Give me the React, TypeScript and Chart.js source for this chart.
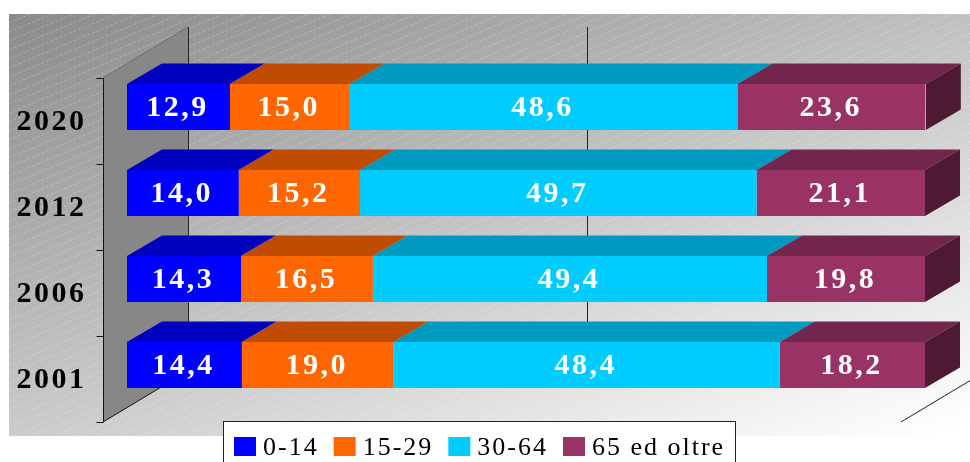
import { useEffect, useRef } from 'react';
import { Chart, registerables } from 'chart.js';

Chart.register(...registerables);

const categories = ['2020', '2012', '2006', '2001'];
const seriesLabels = ['0-14', '15-29', '30-64', '65 ed oltre'];
const age0to14 = [12.9, 14.0, 14.3, 14.4];
const age15to29 = [15.0, 15.2, 16.5, 19.0];
const age30to64 = [48.6, 49.7, 49.4, 48.4];
const age65plus = [23.6, 21.1, 19.8, 18.2];
const gridTicks = [0, 50, 100];

const frontColors = ['#0000FF', '#FF6600', '#00CCFF', '#993366'];
const topColors = ['#0000BF', '#BF4C00', '#0099BF', '#73264D'];
const sideColors = ['#000080', '#803300', '#006680', '#4D1933'];

const SERIF = '"Liberation Serif", "Times New Roman", serif';

// 3D geometry offsets relative to bar front plane
const BAR_DX = 35;
const BAR_DY = -20.5;
const FRONT_DX = -24;
const FRONT_DY = 14;
const BACK_DX = 61;
const BACK_DY = -37;

const fmt = (v: number) => v.toFixed(1).replace('.', ',');

const threeDPlugin = {
  id: 'threeD',
  beforeDatasetsDraw(chart: any) {
    const ctx: CanvasRenderingContext2D = chart.ctx;
    const { left, right, top, bottom } = chart.chartArea;
    const xs = chart.scales.x;
    const ys = chart.scales.y;
    ctx.save();
    // panel background
    const px = 9, py = 14, pw = 961, ph = 422;
    const g = ctx.createLinearGradient(px, py, 260, 688);
    g.addColorStop(0, '#8a8a8a');
    g.addColorStop(1, '#ffffff');
    ctx.fillStyle = g;
    ctx.fillRect(px, py, pw, ph);
    // stripes
    ctx.save();
    ctx.beginPath();
    ctx.rect(px, py, pw, ph);
    ctx.clip();
    ctx.strokeStyle = 'rgba(255,255,255,0.25)';
    ctx.lineWidth = 1;
    ctx.setLineDash([3, 2]);
    for (let k = 0; k < 160; k++) {
      const y0 = py + k * 9;
      ctx.beginPath();
      ctx.moveTo(px, y0);
      ctx.lineTo(px + pw, y0 - 0.42 * pw);
      ctx.stroke();
    }
    ctx.restore();
    ctx.setLineDash([]);

    // back-wall gridlines
    ctx.strokeStyle = '#222';
    ctx.lineWidth = 1;
    for (const t of gridTicks) {
      const x = Math.round(xs.getPixelForValue(t) + BACK_DX) + 0.5;
      ctx.beginPath();
      ctx.moveTo(x, top + BACK_DY);
      ctx.lineTo(x, bottom + BACK_DY);
      ctx.stroke();
    }
    // side wall
    const fl = left + FRONT_DX, bl = left + BACK_DX;
    ctx.fillStyle = '#878787';
    ctx.beginPath();
    ctx.moveTo(fl, top + FRONT_DY);
    ctx.lineTo(bl, top + BACK_DY);
    ctx.lineTo(bl, bottom + BACK_DY);
    ctx.lineTo(fl, bottom + FRONT_DY);
    ctx.closePath();
    ctx.fill();
    ctx.strokeStyle = '#6a6a6a';
    ctx.beginPath();
    ctx.moveTo(fl, top + FRONT_DY);
    ctx.lineTo(bl, top + BACK_DY);
    ctx.stroke();
    ctx.strokeStyle = '#111';
    ctx.beginPath();
    ctx.moveTo(fl, bottom + FRONT_DY);
    ctx.lineTo(bl, bottom + BACK_DY);
    ctx.stroke();
    // axis line + ticks
    const ax = Math.round(fl) + 0.5;
    ctx.beginPath();
    ctx.moveTo(ax, top + FRONT_DY);
    ctx.lineTo(ax, bottom + FRONT_DY);
    const n = categories.length;
    for (let i = 0; i <= n; i++) {
      const y = Math.round(top + FRONT_DY + (i * (bottom - top)) / n) + 0.5;
      ctx.moveTo(ax - 7, y);
      ctx.lineTo(ax, y);
    }
    ctx.stroke();
    // floor right edge
    ctx.strokeStyle = '#222';
    ctx.beginPath();
    ctx.moveTo(right + FRONT_DX, bottom + FRONT_DY);
    ctx.lineTo(right + BACK_DX, bottom + BACK_DY);
    ctx.stroke();
    // category labels
    ctx.fillStyle = '#000';
    ctx.font = `bold 30px ${SERIF}`;
    (ctx as any).letterSpacing = '2.5px';
    ctx.textAlign = 'right';
    ctx.textBaseline = 'middle';
    categories.forEach((c, j) => {
      const y = ys.getPixelForValue(j) + FRONT_DY;
      ctx.fillText(c, fl - 16.5, y + 1);
    });
    (ctx as any).letterSpacing = '0px';
    ctx.restore();
  },
  afterDatasetsDraw(chart: any) {
    const ctx: CanvasRenderingContext2D = chart.ctx;
    const nds = chart.data.datasets.length;
    ctx.save();
    for (let j = 0; j < categories.length; j++) {
      for (let i = 0; i < nds; i++) {
        const el = chart.getDatasetMeta(i).data[j];
        const p = el.getProps(['x', 'y', 'base', 'height'], true);
        const x0 = Math.min(p.base, p.x);
        const x1 = Math.max(p.base, p.x);
        const yT = p.y - p.height / 2;
        const yB = p.y + p.height / 2;
        ctx.fillStyle = topColors[i];
        ctx.beginPath();
        ctx.moveTo(x0, yT);
        ctx.lineTo(x1, yT);
        ctx.lineTo(x1 + BAR_DX, yT + BAR_DY);
        ctx.lineTo(x0 + BAR_DX, yT + BAR_DY);
        ctx.closePath();
        ctx.fill();
        if (i === nds - 1) {
          ctx.fillStyle = sideColors[i];
          ctx.beginPath();
          ctx.moveTo(x1, yT);
          ctx.lineTo(x1 + BAR_DX, yT + BAR_DY);
          ctx.lineTo(x1 + BAR_DX, yB + BAR_DY);
          ctx.lineTo(x1, yB);
          ctx.closePath();
          ctx.fill();
        }
      }
    }
    // value labels
    ctx.fillStyle = '#fff';
    ctx.font = `bold 30px ${SERIF}`;
    (ctx as any).letterSpacing = '2.5px';
    ctx.textAlign = 'center';
    ctx.textBaseline = 'middle';
    for (let i = 0; i < nds; i++) {
      const ds = chart.data.datasets[i];
      chart.getDatasetMeta(i).data.forEach((el: any, j: number) => {
        const p = el.getProps(['x', 'y', 'base'], true);
        ctx.fillText(fmt(ds.data[j]), (p.x + p.base) / 2 - 1, p.y + 1);
      });
    }
    // legend
    ctx.font = `26px ${SERIF}`;
    (ctx as any).letterSpacing = '2px';
    ctx.fillStyle = '#fff';
    ctx.fillRect(223.5, 421.5, 512, 60);
    ctx.strokeStyle = '#222';
    ctx.lineWidth = 1;
    ctx.strokeRect(223.5, 421.5, 512, 60);
    let lx = 234;
    ctx.textAlign = 'left';
    ctx.textBaseline = 'alphabetic';
    for (let i = 0; i < nds; i++) {
      const ds = chart.data.datasets[i];
      ctx.fillStyle = frontColors[i];
      ctx.fillRect(lx, 437, 22, 19);
      lx += 29;
      ctx.fillStyle = '#000';
      ctx.fillText(ds.label, lx, 455);
      lx += ctx.measureText(ds.label).width + 15;
    }
    (ctx as any).letterSpacing = '0px';
    ctx.restore();
  },
};

export default function App() {
  const ref = useRef<HTMLCanvasElement>(null);
  useEffect(() => {
    if (!ref.current) return;
    const seriesData = [age0to14, age15to29, age30to64, age65plus];
    const chart = new Chart(ref.current, {
      type: 'bar',
      data: {
        labels: categories,
        datasets: seriesData.map((d, i) => ({
          label: seriesLabels[i],
          data: d,
          backgroundColor: frontColors[i],
          borderWidth: 0,
          categoryPercentage: 1,
          barPercentage: 0.535,
        })),
      },
      options: {
        indexAxis: 'y',
        responsive: false,
        animation: false,
        layout: { padding: { left: 127, right: 45, top: 64, bottom: 54 } },
        scales: {
          x: { stacked: true, min: 0, max: 100, display: false },
          y: { stacked: true, display: false },
        },
        plugins: {
          legend: { display: false },
          tooltip: { enabled: false },
        },
      },
      plugins: [threeDPlugin],
    } as any);
    return () => chart.destroy();
  }, []);
  return (
    <div style={{ position: 'absolute', left: 0, top: 0, width: 970, height: 462 }}>
      <canvas ref={ref} width={970} height={462} />
    </div>
  );
}
